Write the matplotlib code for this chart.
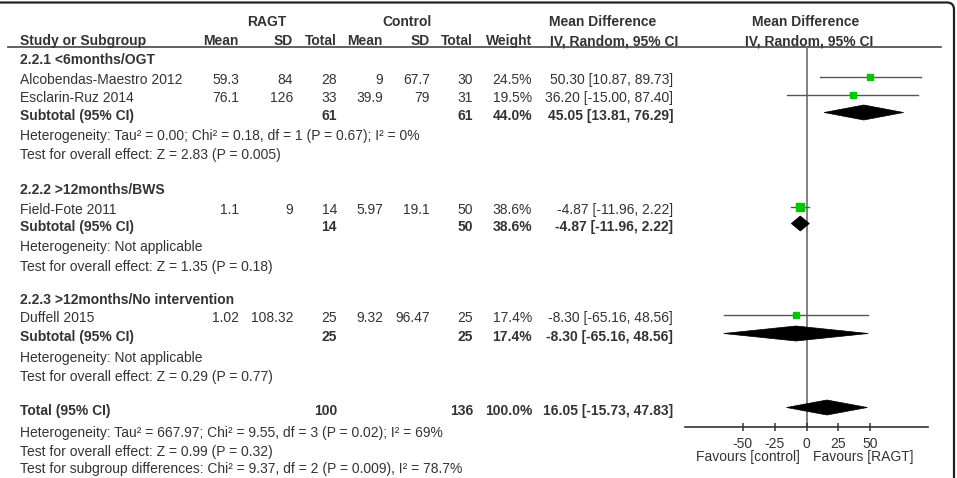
import matplotlib
matplotlib.use("Agg")
import matplotlib.pyplot as plt
from matplotlib.patches import Polygon, FancyBboxPatch

# ---------------- data ----------------
subgroups = ["2.2.1 <6months/OGT", "2.2.2 >12months/BWS", "2.2.3 >12months/No intervention"]
studies = ["Alcobendas-Maestro 2012", "Esclarin-Ruz 2014", "Field-Fote 2011", "Duffell 2015"]
study_group = [0, 0, 1, 2]
ragt_mean = ["59.3", "76.1", "1.1", "1.02"]
ragt_sd = ["84", "126", "9", "108.32"]
ragt_total = [28, 33, 14, 25]
ctrl_mean = ["9", "39.9", "5.97", "9.32"]
ctrl_sd = ["67.7", "79", "19.1", "96.47"]
ctrl_total = [30, 31, 50, 25]
weight = [24.5, 19.5, 38.6, 17.4]
md = [50.30, 36.20, -4.87, -8.30]
md_lo = [10.87, -15.00, -11.96, -65.16]
md_hi = [89.73, 87.40, 2.22, 48.56]

sub_ragt_total = [61, 14, 25]
sub_ctrl_total = [61, 50, 25]
sub_weight = [44.0, 38.6, 17.4]
sub_md = [45.05, -4.87, -8.30]
sub_lo = [13.81, -11.96, -65.16]
sub_hi = [76.29, 2.22, 48.56]
sub_het = ["Heterogeneity: Tau² = 0.00; Chi² = 0.18, df = 1 (P = 0.67); I² = 0%",
           "Heterogeneity: Not applicable",
           "Heterogeneity: Not applicable"]
sub_test = ["Test for overall effect: Z = 2.83 (P = 0.005)",
            "Test for overall effect: Z = 1.35 (P = 0.18)",
            "Test for overall effect: Z = 0.29 (P = 0.77)"]

tot_ragt = 100
tot_ctrl = 136
tot_weight = 100.0
tot_md = 16.05
tot_lo = -15.73
tot_hi = 47.83
footer = ["Heterogeneity: Tau² = 667.97; Chi² = 9.55, df = 3 (P = 0.02); I² = 69%",
          "Test for overall effect: Z = 0.99 (P = 0.32)",
          "Test for subgroup differences: Chi² = 9.37, df = 2 (P = 0.009), I² = 78.7%"]

xticks = [-50, -25, 0, 25, 50]
xlims = (-95.5, 95.5)

# ---------------- layout (pixel rows) ----------------
W, H = 957, 478
sub_title_y = [60, 190, 300]
study_y = [80, 98, 210, 318]
sub_y = [116, 227, 337]
het_y = [136, 247, 358]
test_y = [155, 267, 377]
tot_y = 411
footer_y = [433, 452, 469]
mark_dy = -3.5   # forest marks sit slightly above text centres

TXT = "#333333"
FS = 10.0
plt.rcParams['font.family'] = ['Liberation Sans', 'DejaVu Sans']

fig = plt.figure(figsize=(W / 100, H / 100), dpi=100)
tab = fig.add_axes([0, 0, 1, 1])
tab.set_xlim(0, W)
tab.set_ylim(H, 0)
tab.axis("off")

def t(x, y, s, ha="left", bold=False, **kw):
    tab.text(x, y, s, ha=ha, va="center", fontsize=FS, color=TXT,
             fontweight="bold" if bold else "normal", **kw)

# border (rounded frame, only top/right visible)
frame = FancyBboxPatch((-40, 2.5), 954 + 40, H + 60,
                       boxstyle="round,pad=0,rounding_size=7",
                       fill=False, ec="#222222", lw=1.6)
tab.add_patch(frame)

# headers
t(267, 22, "RAGT", "center", True)
t(407, 22, "Control", "center", True)
t(603, 22, "Mean Difference", "center", True)
t(806, 22, "Mean Difference", "center", True)
hdr_y = 41
t(20, hdr_y, "Study or Subgroup", bold=True)
t(239, hdr_y, "Mean", "right", True)
t(293, hdr_y, "SD", "right", True)
t(337, hdr_y, "Total", "right", True)
t(383, hdr_y, "Mean", "right", True)
t(430, hdr_y, "SD", "right", True)
t(473, hdr_y, "Total", "right", True)
t(532, hdr_y, "Weight", "right", True)
t(614, hdr_y, "IV, Random, 95% CI", "center", True)
t(809, hdr_y, "IV, Random, 95% CI", "center", True)
tab.plot([8, 941], [47, 47], color="#555555", lw=1.3)

cols = [239, 293, 337, 383, 430, 473, 532, 673]

for g in range(3):
    t(20, sub_title_y[g], subgroups[g], bold=True)
for i in range(len(studies)):
    y = study_y[i]
    t(20, y, studies[i])
    vals = [ragt_mean[i], ragt_sd[i], str(ragt_total[i]), ctrl_mean[i], ctrl_sd[i],
            str(ctrl_total[i]), f"{weight[i]:.1f}%",
            f"{md[i]:.2f} [{md_lo[i]:.2f}, {md_hi[i]:.2f}]"]
    for x, v in zip(cols, vals):
        t(x, y, v, "right")
for g in range(3):
    y = sub_y[g]
    t(20, y, "Subtotal (95% CI)", bold=True)
    t(337, y, str(sub_ragt_total[g]), "right", True)
    t(473, y, str(sub_ctrl_total[g]), "right", True)
    t(532, y, f"{sub_weight[g]:.1f}%", "right", True)
    t(673, y, f"{sub_md[g]:.2f} [{sub_lo[g]:.2f}, {sub_hi[g]:.2f}]", "right", True)
    t(20, het_y[g], sub_het[g])
    t(20, test_y[g], sub_test[g])

t(20, tot_y, "Total (95% CI)", bold=True)
t(337, tot_y, str(tot_ragt), "right", True)
t(473, tot_y, str(tot_ctrl), "right", True)
t(532, tot_y, f"{tot_weight:.1f}%", "right", True)
t(673, tot_y, f"{tot_md:.2f} [{tot_lo:.2f}, {tot_hi:.2f}]", "right", True)
for s, y in zip(footer, footer_y):
    t(20, y, s)

t(748, 457, "Favours [control]", "center")
t(863, 457, "Favours [RAGT]", "center")

# ---------------- forest panel ----------------
ax_top, ax_bot = 47, 427
fx0, fx1 = 685, 928
fa = fig.add_axes([fx0 / W, 1 - ax_bot / H, (fx1 - fx0) / W, (ax_bot - ax_top) / H])
fa.set_xlim(*xlims)
fa.set_ylim(ax_bot, ax_top)
fa.patch.set_alpha(0)
for sp in ["top", "left", "right"]:
    fa.spines[sp].set_visible(False)
fa.spines["bottom"].set_color("#333333")
fa.spines["bottom"].set_linewidth(1.2)
fa.set_yticks([])
fa.set_xticks(xticks)
fa.set_xticklabels([str(v) for v in xticks])
fa.tick_params(axis="x", direction="inout", length=6, width=1.1, color="#333333",
               labelsize=FS, labelcolor=TXT, pad=4)
fa.axvline(0, color="#777777", lw=1.3, zorder=1)

for i in range(len(studies)):
    y = study_y[i] + mark_dy
    fa.plot([md_lo[i], md_hi[i]], [y, y], color="#555555", lw=1.0, zorder=2)
    fa.plot([md[i]], [y], marker="s", ms=1.0 * weight[i] ** 0.5, color="#00C800",
            mec="#00C800", ls="none", zorder=3)

def diamond(y, c, lo, hi, h=7.5):
    fa.add_patch(Polygon([[lo, y], [c, y - h], [hi, y], [c, y + h]],
                         closed=True, fc="black", ec="black", lw=0.5, zorder=4))

for g in range(3):
    diamond(sub_y[g] + mark_dy, sub_md[g], sub_lo[g], sub_hi[g])
diamond(tot_y + mark_dy, tot_md, tot_lo, tot_hi)

fig.savefig("out.png", dpi=100)
